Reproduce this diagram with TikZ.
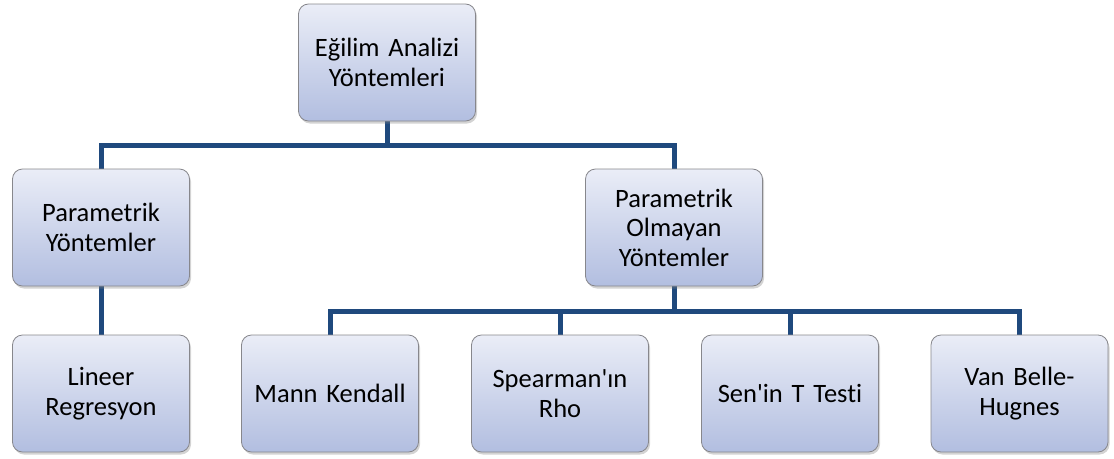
\documentclass[tikz,border=0pt]{standalone}
\usepackage{fontspec}
\setmainfont{Carlito}[Ligatures={TeXOff,CommonOff},WordSpace=0.85]
\usetikzlibrary{shadows,backgrounds}
\definecolor{boxtop}{RGB}{234,237,247}
\definecolor{boxbot}{RGB}{178,190,224}
\definecolor{boxline}{RGB}{135,135,140}
\definecolor{conn}{RGB}{31,73,125}
\tikzset{
  tbox/.style={draw=boxline, line width=0.8pt, rounded corners=10pt,
    top color=boxtop, bottom color=boxbot,
    minimum width=177pt, minimum height=117pt, text width=170pt, align=center,
    font=\fontsize{26.5}{29.5}\selectfont,
    drop shadow={opacity=0.35, shadow xshift=1.5pt, shadow yshift=-2.5pt}},
  bus/.style={draw=conn, line width=5pt, line join=miter}
}
\begin{document}
\begin{tikzpicture}[x=1pt,y=-1pt]
\useasboundingbox (0,0) rectangle (1114,458);
\node[tbox] (top) at (387,62.5) {Eğilim Analizi\\Yöntemleri};
\node[tbox] (py) at (101,227.5) {Parametrik\\Yöntemler};
\node[tbox] (poy) at (674,227.5) {Parametrik\\Olmayan\\Yöntemler};
\node[tbox] (lr) at (101,393.5) {Lineer\\Regresyon};
\node[tbox] (mk) at (330,393.5) {Mann Kendall};
\node[tbox] (sr) at (560,393.5) {Spearman'ın\\Rho};
\node[tbox] (st) at (790,393.5) {Sen'in T Testi};
\node[tbox] (vb) at (1019.5,393.5) {Van Belle-\\Hugnes};
\coordinate (b1) at (387,145);
\coordinate (b2) at (674,311);
\begin{scope}[on background layer]
\draw[bus] (top.south) -- (b1);
\draw[bus] (py.north) |- (b1) -| (poy.north);
\draw[bus] (py.south) -- (lr.north);
\draw[bus] (poy.south) -- (b2);
\draw[bus] (mk.north) |- (b2) -| (vb.north);
\draw[bus] (sr.north) -- (sr.north |- b2);
\draw[bus] (st.north) -- (st.north |- b2);
\end{scope}
\end{tikzpicture}
\end{document}
